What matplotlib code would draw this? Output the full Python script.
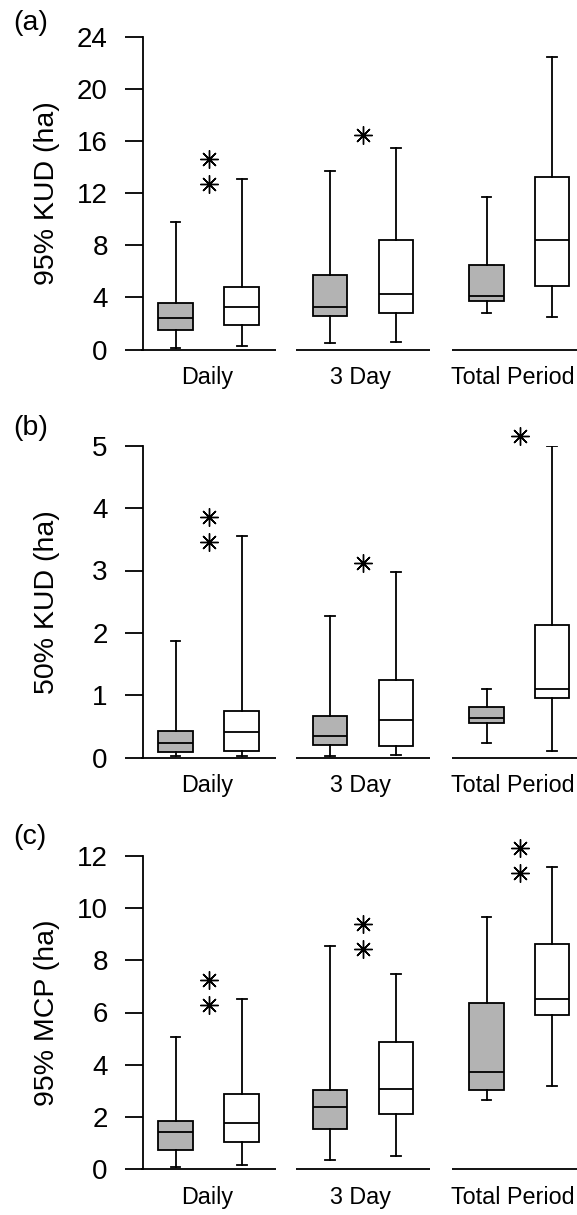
import matplotlib
matplotlib.use("Agg")
import matplotlib.pyplot as plt

plt.rcParams['font.family'] = ['Liberation Sans', 'DejaVu Sans']

# Datos (grises = primera serie, blancos = segunda)
groups = ["Daily", "3 Day", "Total Period"]
panel_labels = ["(a)", "(b)", "(c)"]
ylabels = ["95% KUD (ha)", "50% KUD (ha)", "95% MCP (ha)"]
yticks = [[0, 4, 8, 12, 16, 20, 24], [0, 1, 2, 3, 4, 5], [0, 2, 4, 6, 8, 10, 12]]

# (whislo, q1, med, q3, whishi) para las 6 cajas de cada panel
kud95_stats = [(0.1, 1.46, 2.44, 3.54, 9.8), (0.3, 1.92, 3.3, 4.8, 13.1),
               (0.5, 2.6, 3.3, 5.7, 13.7), (0.6, 2.8, 4.3, 8.4, 15.5),
               (2.8, 3.75, 4.1, 6.5, 11.7), (2.5, 4.85, 8.4, 13.25, 22.5)]
kud50_stats = [(0.02, 0.09, 0.24, 0.42, 1.87), (0.02, 0.10, 0.41, 0.75, 3.56),
               (0.02, 0.21, 0.35, 0.67, 2.27), (0.04, 0.18, 0.60, 1.24, 2.97),
               (0.24, 0.55, 0.64, 0.81, 1.10), (0.11, 0.96, 1.10, 2.12, 5.0)]
mcp95_stats = [(0.08, 0.72, 1.43, 1.84, 5.05), (0.17, 1.05, 1.75, 2.89, 6.53),
               (0.36, 1.52, 2.36, 3.04, 8.55), (0.49, 2.11, 3.07, 4.88, 7.46),
               (2.63, 3.03, 3.71, 6.36, 9.65), (3.17, 5.89, 6.51, 8.61, 11.58)]

# valores atipicos por grupo (Daily, 3 Day, Total Period)
kud95_out = [[14.6, 12.7], [16.5], []]
kud50_out = [[3.85, 3.45], [3.12], [5.15]]
mcp95_out = [[7.25, 6.3], [9.39, 8.44], [12.32, 11.34]]

all_stats = [kud95_stats, kud50_stats, mcp95_stats]
all_out = [kud95_out, kud50_out, mcp95_out]

group_pos = [0.0, 2.34, 4.71]
label_pos = [-0.02, 2.30, 4.61]   # las etiquetas no estan justo centradas
box_pos = [-0.5, 0.5, 1.84, 2.84, 4.21, 5.2]
fills = ['#b3b3b3', 'white'] * 3

fig = plt.figure(figsize=(5.77, 12.15), dpi=100)
px_w, px_h = 577, 1215
# (pixel de y=0, pixel del tope) por panel
panel_px = [(349.5, 37), (757.7, 445.7), (1169, 856)]
label_y = [23, 428, 837]

lw = 1.3
for i in range(3):
    y0, y1 = panel_px[i]
    left = 142.5 / px_w
    ax = fig.add_axes([left, 1 - y0 / px_h, 1 - left, (y0 - y1) / px_h])

    stats = []
    for s in all_stats[i]:
        stats.append(dict(whislo=s[0], q1=s[1], med=s[2], q3=s[3], whishi=s[4], fliers=[]))
    bp = ax.bxp(stats, positions=box_pos, widths=0.52, patch_artist=True,
                showfliers=False, capwidths=0.15,
                boxprops=dict(linewidth=lw, edgecolor='black'),
                medianprops=dict(color='black', linewidth=lw),
                whiskerprops=dict(color='black', linewidth=lw),
                capprops=dict(color='black', linewidth=lw))
    for patch, c in zip(bp['boxes'], fills):
        patch.set_facecolor(c)

    # asteriscos (8 brazos) en el centro de cada grupo
    for g, vals in zip(group_pos, all_out[i]):
        for v in vals:
            ax.plot(g, v, marker=(8, 2, 0), markersize=13, color='black',
                    markeredgewidth=1.0, clip_on=False, zorder=5)
            ax.plot(g, v, 'o', markersize=3, color='black', clip_on=False, zorder=5)

    # linea base segmentada
    for g in group_pos:
        ax.plot([g - 1.02, g + 1.02], [0, 0], color='black', linewidth=lw,
                clip_on=False, solid_capstyle='butt')

    ax.set_xlim(-1.0, 5.58)
    ax.set_ylim(0, yticks[i][-1])
    for sp in ['top', 'right', 'bottom']:
        ax.spines[sp].set_visible(False)
    ax.spines['left'].set_linewidth(lw)
    ax.set_yticks(yticks[i])
    ax.tick_params(axis='y', length=13, width=lw, labelsize=20, pad=12)
    ax.set_xticks(label_pos)
    ax.set_xticklabels(groups)
    ax.tick_params(axis='x', length=0, labelsize=16.8, pad=12)
    ax.set_ylabel(ylabels[i], fontsize=20.5)
    ax.yaxis.set_label_coords(-0.19, 0.5)

    fig.text(13 / px_w, 1 - label_y[i] / px_h, panel_labels[i], fontsize=20.5,
             ha='left', va='center')

fig.savefig("out.png", dpi=100)
